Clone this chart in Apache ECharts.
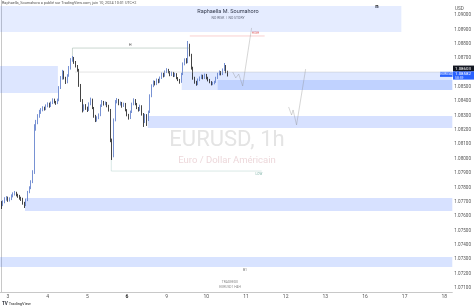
<!DOCTYPE html>
<html><head><meta charset="utf-8">
<script src="https://cdn.jsdelivr.net/npm/echarts@6/dist/echarts.min.js"></script>
<style>html,body{margin:0;padding:0;background:#fff}#c{width:474px;height:308px}</style>
</head><body><div id="c"></div>
<script>
// ---- data ----
const dayLabels = ['3','4','5','6','9','10','11','12','13','16','17','18'];
const dayStartIndex = [4,28,52,76,100,124,148,172,196,220,244,268];
const priceTicks = [1.071,1.072,1.073,1.074,1.075,1.076,1.077,1.078,1.079,1.080,1.081,1.082,1.083,1.084,1.085,1.086,1.087,1.088,1.089,1.090];
// [open, close, low, high], one per hour
const candles = [
[1.07692,1.07678,1.07650,1.07705],[1.07678,1.07699,1.07670,1.07710],[1.07699,1.07720,1.07690,1.07732],[1.07720,1.07727,1.07708,1.07740],
[1.07727,1.07713,1.07700,1.07736],[1.07713,1.07720,1.07702,1.07731],[1.07720,1.07740,1.07712,1.07752],[1.07740,1.07754,1.07731,1.07766],
[1.07754,1.07761,1.07744,1.07775],[1.07761,1.07747,1.07738,1.07770],[1.07747,1.07740,1.07728,1.07756],[1.07740,1.07727,1.07715,1.07748],
[1.07727,1.07720,1.07706,1.07735],[1.07720,1.07692,1.07680,1.07728],[1.07692,1.07678,1.07657,1.07700],[1.07678,1.07713,1.07670,1.07722],
[1.07713,1.07768,1.07705,1.07776],[1.07768,1.07796,1.07760,1.07808],[1.07796,1.07838,1.07788,1.07850],[1.07838,1.07907,1.07830,1.07920],
[1.07907,1.08214,1.07894,1.08240],[1.08214,1.08255,1.08195,1.08270],[1.08255,1.08297,1.08240,1.08310],[1.08297,1.08325,1.08285,1.08340],
[1.08325,1.08339,1.08312,1.08352],[1.08339,1.08353,1.08330,1.08365],[1.08353,1.08346,1.08335,1.08362],[1.08346,1.08367,1.08338,1.08378],
[1.08367,1.08381,1.08358,1.08392],[1.08381,1.08367,1.08355,1.08390],[1.08367,1.08388,1.08360,1.08398],[1.08388,1.08409,1.08380,1.08420],
[1.08409,1.08395,1.08385,1.08418],[1.08395,1.08388,1.08375,1.08402],[1.08388,1.08409,1.08380,1.08418],[1.08409,1.08492,1.08400,1.08505],
[1.08492,1.08562,1.08485,1.08575],[1.08562,1.08603,1.08550,1.08618],[1.08603,1.08562,1.08552,1.08612],[1.08562,1.08534,1.08520,1.08570],
[1.08534,1.08576,1.08525,1.08588],[1.08576,1.08631,1.08570,1.08645],[1.08631,1.08687,1.08620,1.08700],[1.08687,1.08701,1.08675,1.08715],
[1.08701,1.08673,1.08660,1.08708],[1.08673,1.08645,1.08635,1.08680],[1.08645,1.08617,1.08605,1.08652],[1.08617,1.08513,1.08500,1.08625],
[1.08513,1.08409,1.08395,1.08520],[1.08409,1.08339,1.08322,1.08415],[1.08339,1.08367,1.08330,1.08378],[1.08367,1.08353,1.08340,1.08380],
[1.08353,1.08339,1.08325,1.08362],[1.08339,1.08381,1.08332,1.08392],[1.08381,1.08409,1.08372,1.08425],[1.08409,1.08353,1.08345,1.08418],
[1.08353,1.08297,1.08285,1.08360],[1.08297,1.08269,1.08255,1.08305],[1.08269,1.08283,1.08258,1.08295],[1.08283,1.08304,1.08275,1.08315],
[1.08304,1.08367,1.08296,1.08378],[1.08367,1.08395,1.08360,1.08408],[1.08395,1.08381,1.08370,1.08402],[1.08381,1.08388,1.08372,1.08398],
[1.08388,1.08367,1.08358,1.08395],[1.08367,1.08339,1.08328,1.08375],[1.08339,1.08130,1.08115,1.08346],[1.08130,1.08019,1.07991,1.08140],
[1.08019,1.08269,1.08010,1.08280],[1.08269,1.08395,1.08260,1.08408],[1.08395,1.08409,1.08385,1.08422],[1.08409,1.08381,1.08372,1.08416],
[1.08381,1.08388,1.08370,1.08398],[1.08388,1.08367,1.08355,1.08395],[1.08367,1.08381,1.08360,1.08390],[1.08381,1.08339,1.08330,1.08388],
[1.08339,1.08304,1.08295,1.08345],[1.08304,1.08283,1.08272,1.08312],[1.08283,1.08325,1.08276,1.08335],[1.08325,1.08381,1.08318,1.08390],
[1.08381,1.08409,1.08372,1.08420],[1.08409,1.08381,1.08372,1.08415],[1.08381,1.08353,1.08345,1.08388],[1.08353,1.08339,1.08328,1.08360],
[1.08339,1.08367,1.08332,1.08376],[1.08367,1.08311,1.08300,1.08372],[1.08311,1.08255,1.08221,1.08318],[1.08255,1.08304,1.08248,1.08312],
[1.08304,1.08269,1.08228,1.08310],[1.08269,1.08325,1.08262,1.08335],[1.08325,1.08436,1.08318,1.08448],[1.08436,1.08506,1.08428,1.08518],
[1.08506,1.08534,1.08498,1.08545],[1.08534,1.08520,1.08510,1.08542],[1.08520,1.08548,1.08512,1.08558],[1.08548,1.08534,1.08525,1.08556],
[1.08534,1.08562,1.08528,1.08572],[1.08562,1.08589,1.08555,1.08600],[1.08589,1.08576,1.08566,1.08598],[1.08576,1.08603,1.08570,1.08614],
[1.08603,1.08617,1.08596,1.08630],[1.08617,1.08603,1.08594,1.08625],[1.08603,1.08582,1.08574,1.08610],[1.08582,1.08596,1.08575,1.08606],
[1.08596,1.08576,1.08568,1.08604],[1.08576,1.08589,1.08570,1.08598],[1.08589,1.08562,1.08553,1.08595],[1.08562,1.08548,1.08540,1.08568],
[1.08548,1.08534,1.08522,1.08555],[1.08534,1.08589,1.08528,1.08598],[1.08589,1.08659,1.08582,1.08670],[1.08659,1.08687,1.08650,1.08698],
[1.08687,1.08673,1.08662,1.08700],[1.08673,1.08791,1.08665,1.08819],[1.08791,1.08722,1.08712,1.08800],[1.08722,1.08631,1.08620,1.08730],
[1.08631,1.08562,1.08550,1.08640],[1.08562,1.08534,1.08522,1.08570],[1.08534,1.08520,1.08508,1.08542],[1.08520,1.08548,1.08512,1.08558],
[1.08548,1.08562,1.08540,1.08572],[1.08562,1.08576,1.08555,1.08586],[1.08576,1.08562,1.08553,1.08584],[1.08562,1.08582,1.08555,1.08592],
[1.08582,1.08562,1.08552,1.08590],[1.08562,1.08548,1.08538,1.08570],[1.08548,1.08534,1.08525,1.08555],[1.08534,1.08520,1.08510,1.08540],
[1.08520,1.08527,1.08512,1.08535],[1.08527,1.08534,1.08518,1.08542],[1.08534,1.08562,1.08528,1.08570],[1.08562,1.08589,1.08555,1.08598],
[1.08589,1.08603,1.08580,1.08614],[1.08603,1.08589,1.08580,1.08610],[1.08589,1.08617,1.08582,1.08628],[1.08617,1.08645,1.08610,1.08666],
[1.08645,1.08603,1.08595,1.08652],[1.08603,1.08582,1.08572,1.08612]
];
// zones: [fromIndex, toIndex, topPrice, bottomPrice]
const zones = [
[-0.833, 242.0, 1.09063, 1.08882],
[-0.833, 34.2, 1.08645, 1.08457],
[109.1, 272.83, 1.08603, 1.08478],
[130.9, 272.83, 1.08548, 1.08478],
[88.6, 272.83, 1.08297, 1.08214],
[14.3, 272.83, 1.07727, 1.07636],
[-0.833, 272.83, 1.07316, 1.07246]
];
const highLine = [[43,1.08715],[43,1.08770],[114,1.08770]];
const lastLine = [[44.5,1.08603],[272.83,1.08603]];
const redLine = [[114,1.08854],[159.3,1.08854]];
const lowLine = [[66.5,1.07991],[66.5,1.07914],[157.5,1.07914]];
const path1 = [[140,1.08603],[141.8,1.08562],[143.6,1.08589],[146,1.08506],[151.4,1.08910]];
const path2 = [[173.8,1.08360],[175.6,1.08304],[176.5,1.08339],[178.6,1.08235],[184.1,1.08624]];
const lastPrice = 1.08582, refPrice = 1.08603;

// ---- chart ----
const zoneColors = ['rgba(41,98,255,0.12)','rgba(41,98,255,0.16)','rgba(41,98,255,0.15)','rgba(41,98,255,0.17)','rgba(41,98,255,0.19)','rgba(41,98,255,0.19)','rgba(41,98,255,0.18)'];
const chart = echarts.init(document.getElementById('c'), null, {renderer:'canvas'});
const F = 'Roboto, "Liberation Sans", sans-serif';
chart.setOption({
  animation:false,
  grid:{left:0, right:21, top:0, bottom:16, containLabel:false},
  xAxis:{type:'value', min:-0.833, max:272.83,
    axisLine:{show:true, lineStyle:{color:'#c8c8c8', width:1}},
    axisTick:{show:false}, splitLine:{show:false},
    axisLabel:{customValues:dayStartIndex, fontSize:5, color:'#555', fontFamily:F, margin:2.5,
      formatter:v=>{const k=dayStartIndex.indexOf(Math.round(v)); const s=k>=0?dayLabels[k]:''; return s==='6'?'{b|6}':s;},
      rich:{b:{fontSize:5, fontWeight:'bold', color:'#222', fontFamily:F}}}
  },
  yAxis:{type:'value', position:'right', min:1.070724, max:1.091044, scale:true,
    axisLine:{show:true, lineStyle:{color:'#c8c8c8', width:1}},
    axisTick:{show:false}, splitLine:{show:false},
    axisLabel:{customValues:priceTicks, fontSize:4.6, color:'#555', fontFamily:F, margin:2, formatter:v=>v.toFixed(5)}
  },
  series:[
    {type:'custom', z:1, clip:true, silent:true,
      data:zones, encode:{x:[0,1], y:[2,3]},
      renderItem:(params, api)=>{
        const p0 = api.coord([api.value(0), api.value(2)]);
        const p1 = api.coord([api.value(1), api.value(3)]);
        return {type:'rect', shape:{x:p0[0], y:p0[1], width:p1[0]-p0[0], height:p1[1]-p0[1]},
          style:{fill:zoneColors[params.dataIndex]}};
      }},
    {type:'candlestick', z:3, barWidth:1.3,
      data:candles.map((c,i)=>[i,c[0],c[1],c[2],c[3]]),
      encode:{x:0, y:[1,2,3,4]},
      itemStyle:{color:'#5676c8', color0:'#151515', borderColor:'#5676c8', borderColor0:'#151515', borderWidth:0.8}},
    {type:'lines', coordinateSystem:'cartesian2d', polyline:true, z:4, silent:true, symbol:'none',
      data:[
        {coords:highLine, lineStyle:{color:'#7d9c8c', width:0.8}},
        {coords:lastLine, lineStyle:{color:'#b5b5b5', width:0.7}},
        {coords:redLine, lineStyle:{color:'#f08c8c', width:0.8}},
        {coords:lowLine, lineStyle:{color:'#a6cbc3', width:0.8}},
        {coords:path2, lineStyle:{color:'#8a8a8a', width:0.7}}
      ]},
    {type:'lines', coordinateSystem:'cartesian2d', polyline:true, z:4, silent:true,
      symbol:['none','arrow'], symbolSize:4,
      data:[{coords:path1, lineStyle:{color:'#8a8a8a', width:0.7}}]}
  ]
});

function px(x, y){ return chart.convertToPixel({gridIndex:0}, [x, y]); }
const yLast = px(0, lastPrice)[1];
const pH = px(78, highLine[1][1]);
const pR = px(152, redLine[0][1]);
const pL = px(154, lowLine[1][1]);
const g = [];
g.push({type:'text', left:2, top:1, style:{text:'Raphaella_Soumahoro a publié sur TradingView.com, juin 10, 2024 10:01 UTC+2', fontSize:3.8, fill:'#555', fontFamily:F}});
g.push({type:'text', x:228, y:12, style:{text:'Raphaella M. Soumahoro', fontSize:5.5, fill:'#333', fontFamily:F, align:'center', verticalAlign:'middle'}});
g.push({type:'text', x:228, y:18, style:{text:'NO RISK  |  NO STORY', fontSize:3.4, fill:'#666', fontFamily:F, align:'center', verticalAlign:'middle'}});
g.push({type:'text', x:377, y:6, style:{text:'n', fontSize:6, fontWeight:'bold', fill:'#111', fontFamily:F, align:'center', verticalAlign:'middle'}});
g.push({type:'text', x:227, y:140, z:0, style:{text:'EURUSD, 1h', fontSize:22, fill:'#e4e4e4', fontFamily:F, align:'center', verticalAlign:'middle'}});
g.push({type:'text', x:227, y:161, z:0, style:{text:'Euro / Dollar Américain', fontSize:9.5, fill:'#edd8db', fontFamily:F, align:'center', verticalAlign:'middle'}});
g.push({type:'text', x:245, y:270, style:{text:'B1', fontSize:3.5, fill:'#777', fontFamily:F, align:'center', verticalAlign:'middle'}});
g.push({type:'text', x:230, y:282, style:{text:'TRADEEDU', fontSize:3.3, fill:'#888', fontFamily:F, align:'center', verticalAlign:'middle'}});
g.push({type:'text', x:230, y:287, style:{text:'EURUSD1 H4H', fontSize:3.3, fill:'#888', fontFamily:F, align:'center', verticalAlign:'middle'}});
g.push({type:'text', x:pH[0], y:pH[1]-3, style:{text:'H', fontSize:3.5, fill:'#444', fontFamily:F, align:'center', verticalAlign:'middle'}});
g.push({type:'text', x:pR[0]+3, y:pR[1]-3, style:{text:'HIGH', fontSize:3.2, fill:'#e57373', fontFamily:F, align:'center', verticalAlign:'middle'}});
g.push({type:'text', x:pL[0]+3, y:pL[1]+3, style:{text:'LOW', fontSize:3.2, fill:'#7fb3a8', fontFamily:F, align:'center', verticalAlign:'middle'}});
g.push({type:'text', x:455, y:9, style:{text:'USD', fontSize:4.6, fill:'#555', fontFamily:F, verticalAlign:'middle'}});
g.push({type:'rect', shape:{x:453, y:yLast-9.5, width:21, height:5.8}, style:{fill:'#131722'}, z:10});
g.push({type:'text', x:455, y:yLast-6.6, z:11, style:{text:refPrice.toFixed(5), fontSize:4.4, fill:'#fff', fontFamily:F, verticalAlign:'middle'}});
g.push({type:'rect', shape:{x:453, y:yLast-3.7, width:21, height:8.2}, style:{fill:'#2962ff'}, z:10});
g.push({type:'text', x:455, y:yLast-1.2, z:11, style:{text:lastPrice.toFixed(5), fontSize:4.4, fill:'#fff', fontFamily:F, verticalAlign:'middle'}});
g.push({type:'text', x:455, y:yLast+2.6, z:11, style:{text:'58:59', fontSize:3.4, fill:'#dfe6ff', fontFamily:F, verticalAlign:'middle'}});
g.push({type:'rect', shape:{x:440, y:yLast-3.2, width:12.5, height:5}, style:{fill:'#2962ff'}, z:10});
g.push({type:'text', x:446.2, y:yLast-0.7, z:11, style:{text:'EURUSD', fontSize:3.2, fill:'#fff', fontFamily:F, align:'center', verticalAlign:'middle'}});
g.push({type:'text', left:2, top:301, style:{text:'{b|TV} TradingView', fontSize:4, fill:'#222', fontFamily:F, rich:{b:{fontSize:4.5, fontWeight:'bold', fill:'#131722'}}}});
chart.setOption({graphic:g});
</script>
</body></html>
